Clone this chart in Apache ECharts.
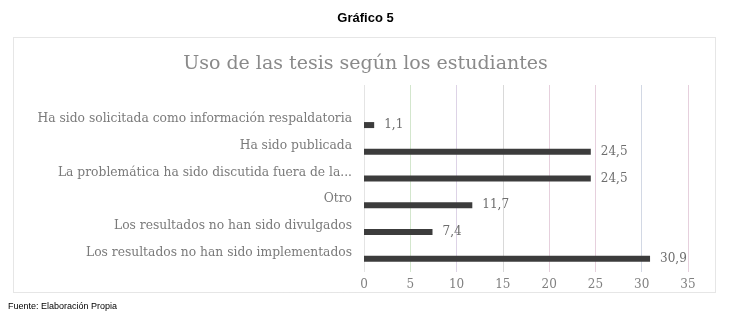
<!DOCTYPE html>
<html>
<head>
<meta charset="utf-8">
<script src="https://cdn.jsdelivr.net/npm/echarts@6/dist/echarts.min.js"></script>
<style>
  html, body { margin: 0; padding: 0; background: #fff; }
  #chartContainer { width: 731px; height: 321px; }
</style>
</head>
<body>
<div id="chartContainer"></div>
<script>
// data, top row first
const categories = [
    'Ha sido solicitada como información respaldatoria',
    'Ha sido publicada',
    'La problemática ha sido discutida fuera de la...',
    'Otro',
    'Los resultados no han sido divulgados',
    'Los resultados no han sido implementados'
];
const values = [1.1, 24.5, 24.5, 11.7, 7.4, 30.9];
const xTicks = [0, 5, 10, 15, 20, 25, 30, 35];

// faint tinted gridlines like the original
const gridColors = ['#e4e4e4', '#d3e6cd', '#ddd3e6', '#d9d9d9', '#e6d0dd', '#e6d0dd', '#d2d8e4', '#e6d0dd'];

let chart = null;

document.addEventListener('DOMContentLoaded', function() {
    chart = echarts.init(document.getElementById('chartContainer'));

    const serif = 'DejaVu Serif';

    // the plot area leaves one empty row above the first bar
    const rows = [''].concat(categories);
    const rowValues = [null].concat(values);

    const option = {
        backgroundColor: '#fff',
        animation: false,
        title: [
            { text: 'Gráfico 5', left: 'center', top: 7,
              textStyle: { fontFamily: 'Liberation Sans', fontSize: 13, fontWeight: 'bold', color: '#000' } },
            { text: 'Uso de las tesis según los estudiantes', left: 'center', top: 50,
              textStyle: { fontFamily: serif, fontSize: 19, fontWeight: 'normal', color: '#8a8a8a' } }
        ],
        graphic: [
            { type: 'rect', shape: { x: 13.5, y: 37.5, width: 702, height: 255 },
              style: { fill: 'none', stroke: '#cccccc', lineWidth: 1, lineDash: [1, 1] } },
            { type: 'text', left: 8, top: 302,
              style: { text: 'Fuente: Elaboración Propia', fontFamily: 'Liberation Sans', fontSize: 9, fill: '#000' } }
        ],
        grid: { left: 364, right: 43, top: 85, bottom: 49, containLabel: false },
        xAxis: {
            type: 'value',
            min: xTicks[0],
            max: xTicks[xTicks.length - 1],
            interval: 5,
            axisLine: { show: false },
            axisTick: { show: false },
            axisLabel: { color: '#808080', fontFamily: serif, fontSize: 12, margin: 7 },
            splitLine: { show: true, lineStyle: { color: gridColors, width: 1 } }
        },
        yAxis: {
            type: 'category',
            data: rows,
            inverse: true,
            axisLine: { show: false },
            axisTick: { show: false },
            // category names sit a little above their bars
            axisLabel: { color: '#7a7a7a', fontFamily: serif, fontSize: 12.3, margin: 12,
                         verticalAlign: 'bottom', lineHeight: 12 }
        },
        series: [{
            type: 'bar',
            data: rowValues,
            barWidth: 6,
            itemStyle: { color: '#3c3c3c' },
            label: {
                show: true,
                position: 'right',
                distance: 10,
                color: '#6e6e6e',
                fontFamily: serif,
                fontSize: 12,
                formatter: p => String(p.value).replace('.', ',')
            }
        }]
    };

    chart.setOption(option);
});
</script>
</body>
</html>
